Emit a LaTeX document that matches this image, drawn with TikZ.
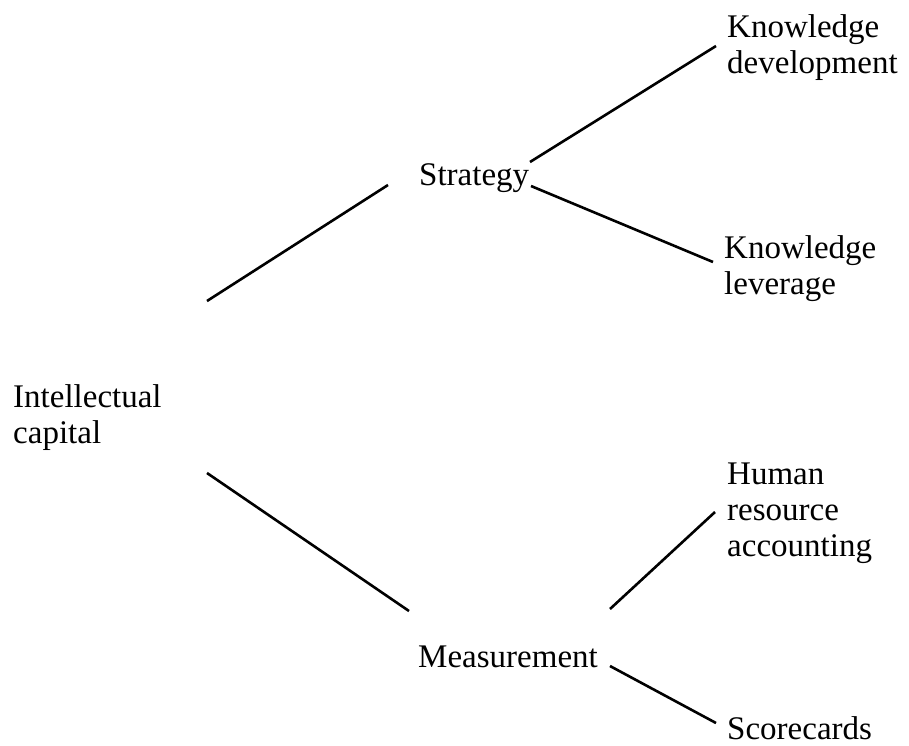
\documentclass[tikz,border=0pt]{standalone}
\usepackage{fontspec}
\setmainfont{Liberation Serif}
\begin{document}
\begin{tikzpicture}[x=1pt,y=-1pt,
  lbl/.style={anchor=base west,align=left,inner sep=0pt,font=\fontsize{33}{36}\selectfont},
  conn/.style={line width=2.6pt,black}]
\useasboundingbox (0,0) rectangle (909,745);
% base west = baseline of the last line
\node[lbl] (ic) at (13,443) {Intellectual\\capital};
\node[lbl] (st) at (419,185) {Strategy};
\node[lbl] (me) at (418,667) {Measurement};
\node[lbl] (kd) at (727,73) {Knowledge\\development};
\node[lbl] (kl) at (724,294) {Knowledge\\leverage};
\node[lbl] (hr) at (727,556) {Human\\resource\\accounting};
\node[lbl] (sc) at (727,739) {Scorecards};
\draw[conn] ([shift={(194,-142)}]ic.base west) -- ([shift={(-31,0)}]st.base west);
\draw[conn] ([shift={(194,30)}]ic.base west) -- ([shift={(-9,-56)}]me.base west);
\draw[conn] ([shift={(111,-23)}]st.base west) -- ([shift={(-11,-27)}]kd.base west);
\draw[conn] ([shift={(112,1)}]st.base west) -- ([shift={(-11,-32)}]kl.base west);
\draw[conn] ([shift={(192,-58)}]me.base west) -- ([shift={(-12,-44)}]hr.base west);
\draw[conn] ([shift={(192,-1)}]me.base west) -- ([shift={(-11,-16)}]sc.base west);
\end{tikzpicture}
\end{document}
